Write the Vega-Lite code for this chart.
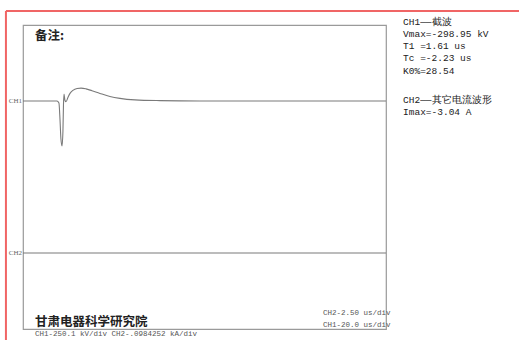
{
  "$schema": "https://vega.github.io/schema/vega-lite/v6.json",
  "width": 363,
  "height": 304,
  "autosize": {"type": "none"},
  "padding": {"left": 23, "top": 25, "right": 133, "bottom": 11},
  "background": "white",
  "config": {"view": {"stroke": "#9a9a9a", "strokeWidth": 1.2}},
  "datasets": {
    "traces": [
      {"ch": "CH1", "t": 0, "v": 2.0},
      {"ch": "CH1", "t": 9.4, "v": 2.0},
      {"ch": "CH1", "t": 18.7, "v": 2.0},
      {"ch": "CH1", "t": 19.8, "v": 1.95},
      {"ch": "CH1", "t": 20.4, "v": 1.5},
      {"ch": "CH1", "t": 20.9, "v": 1.0},
      {"ch": "CH1", "t": 21.5, "v": 0.82},
      {"ch": "CH1", "t": 22.0, "v": 1.2},
      {"ch": "CH1", "t": 22.3, "v": 1.9},
      {"ch": "CH1", "t": 22.6, "v": 2.18},
      {"ch": "CH1", "t": 23.1, "v": 2.02},
      {"ch": "CH1", "t": 23.7, "v": 1.98},
      {"ch": "CH1", "t": 24.8, "v": 2.1},
      {"ch": "CH1", "t": 25.9, "v": 2.2},
      {"ch": "CH1", "t": 27.5, "v": 2.28},
      {"ch": "CH1", "t": 29.8, "v": 2.33},
      {"ch": "CH1", "t": 32.0, "v": 2.34},
      {"ch": "CH1", "t": 34.7, "v": 2.32},
      {"ch": "CH1", "t": 38.0, "v": 2.27},
      {"ch": "CH1", "t": 42.4, "v": 2.2},
      {"ch": "CH1", "t": 47.9, "v": 2.12},
      {"ch": "CH1", "t": 53.4, "v": 2.07},
      {"ch": "CH1", "t": 61.7, "v": 2.03},
      {"ch": "CH1", "t": 75.5, "v": 2.01},
      {"ch": "CH1", "t": 97.5, "v": 2.0},
      {"ch": "CH1", "t": 125, "v": 2.0},
      {"ch": "CH1", "t": 152.6, "v": 2.0},
      {"ch": "CH1", "t": 200, "v": 2.0},
      {"ch": "CH2", "t": 0, "v": -2.0},
      {"ch": "CH2", "t": 50, "v": -2.0},
      {"ch": "CH2", "t": 100, "v": -2.0},
      {"ch": "CH2", "t": 150, "v": -2.0},
      {"ch": "CH2", "t": 200, "v": -2.0}
    ],
    "chlabels": [
      {"t": -0.5, "v": 2.0, "label": "CH1"},
      {"t": -0.5, "v": -2.0, "label": "CH2"}
    ],
    "info": [
      {"t": 209.4, "v": 4.08, "label": "CH1——截波"},
      {"t": 209.4, "v": 3.76, "label": "Vmax=-298.95 kV"},
      {"t": 209.4, "v": 3.45, "label": "T1 =1.61 us"},
      {"t": 209.4, "v": 3.13, "label": "Tc =-2.23 us"},
      {"t": 209.4, "v": 2.79, "label": "K0%=28.54"},
      {"t": 209.4, "v": 2.03, "label": "CH2——其它电流波形"},
      {"t": 209.4, "v": 1.71, "label": "Imax=-3.04 A"}
    ],
    "scales": [
      {"t": 6.6, "v": -4.13, "label": "CH1-250.1 kV/div  CH2-.0984252 kA/div"},
      {"t": 165.3, "v": -3.58, "label": "CH2-2.50 us/div"},
      {"t": 165.3, "v": -3.89, "label": "CH1-20.0 us/div"}
    ],
    "titles": [
      {"t": 6.6, "v": 3.71, "label": "备注:"},
      {"t": 6.6, "v": -3.82, "label": "甘肃电器科学研究院"}
    ],
    "frame": [
      {"t": -9.4, "t2": 420, "v": 4.37, "v2": 4.37},
      {"t": -9.4, "t2": -9.4, "v": 4.37, "v2": -6}
    ]
  },
  "layer": [
    {
      "data": {"name": "traces"},
      "mark": {"type": "line", "color": "#7a7a7a", "strokeWidth": 1.1, "interpolate": "monotone"},
      "encoding": {
        "x": {"field": "t", "type": "quantitative", "scale": {"domain": [0, 200], "nice": false, "zero": false}, "axis": null},
        "y": {"field": "v", "type": "quantitative", "scale": {"domain": [-4, 4], "nice": false, "zero": false}, "axis": null},
        "detail": {"field": "ch"}
      }
    },
    {
      "data": {"name": "chlabels"},
      "mark": {"type": "text", "align": "right", "baseline": "middle", "font": "Liberation Serif", "fontSize": 7, "color": "#666", "clip": false},
      "encoding": {
        "x": {"field": "t", "type": "quantitative"},
        "y": {"field": "v", "type": "quantitative"},
        "text": {"field": "label"}
      }
    },
    {
      "data": {"name": "info"},
      "mark": {"type": "text", "align": "left", "baseline": "middle", "font": "Liberation Mono", "fontSize": 9.5, "color": "#222", "clip": false},
      "encoding": {
        "x": {"field": "t", "type": "quantitative"},
        "y": {"field": "v", "type": "quantitative"},
        "text": {"field": "label"}
      }
    },
    {
      "data": {"name": "scales"},
      "mark": {"type": "text", "align": "left", "baseline": "middle", "font": "Liberation Mono", "fontSize": 7.5, "color": "#555", "clip": false},
      "encoding": {
        "x": {"field": "t", "type": "quantitative"},
        "y": {"field": "v", "type": "quantitative"},
        "text": {"field": "label"}
      }
    },
    {
      "data": {"name": "titles"},
      "mark": {"type": "text", "align": "left", "baseline": "middle", "font": "Noto Sans CJK SC", "fontWeight": "bold", "fontSize": 12.5, "color": "#222", "clip": false},
      "encoding": {
        "x": {"field": "t", "type": "quantitative"},
        "y": {"field": "v", "type": "quantitative"},
        "text": {"field": "label"}
      }
    },
    {
      "data": {"name": "frame"},
      "mark": {"type": "rule", "color": "#f06565", "strokeWidth": 2, "clip": false},
      "encoding": {
        "x": {"field": "t", "type": "quantitative"},
        "x2": {"field": "t2"},
        "y": {"field": "v", "type": "quantitative"},
        "y2": {"field": "v2"}
      }
    }
  ]
}
